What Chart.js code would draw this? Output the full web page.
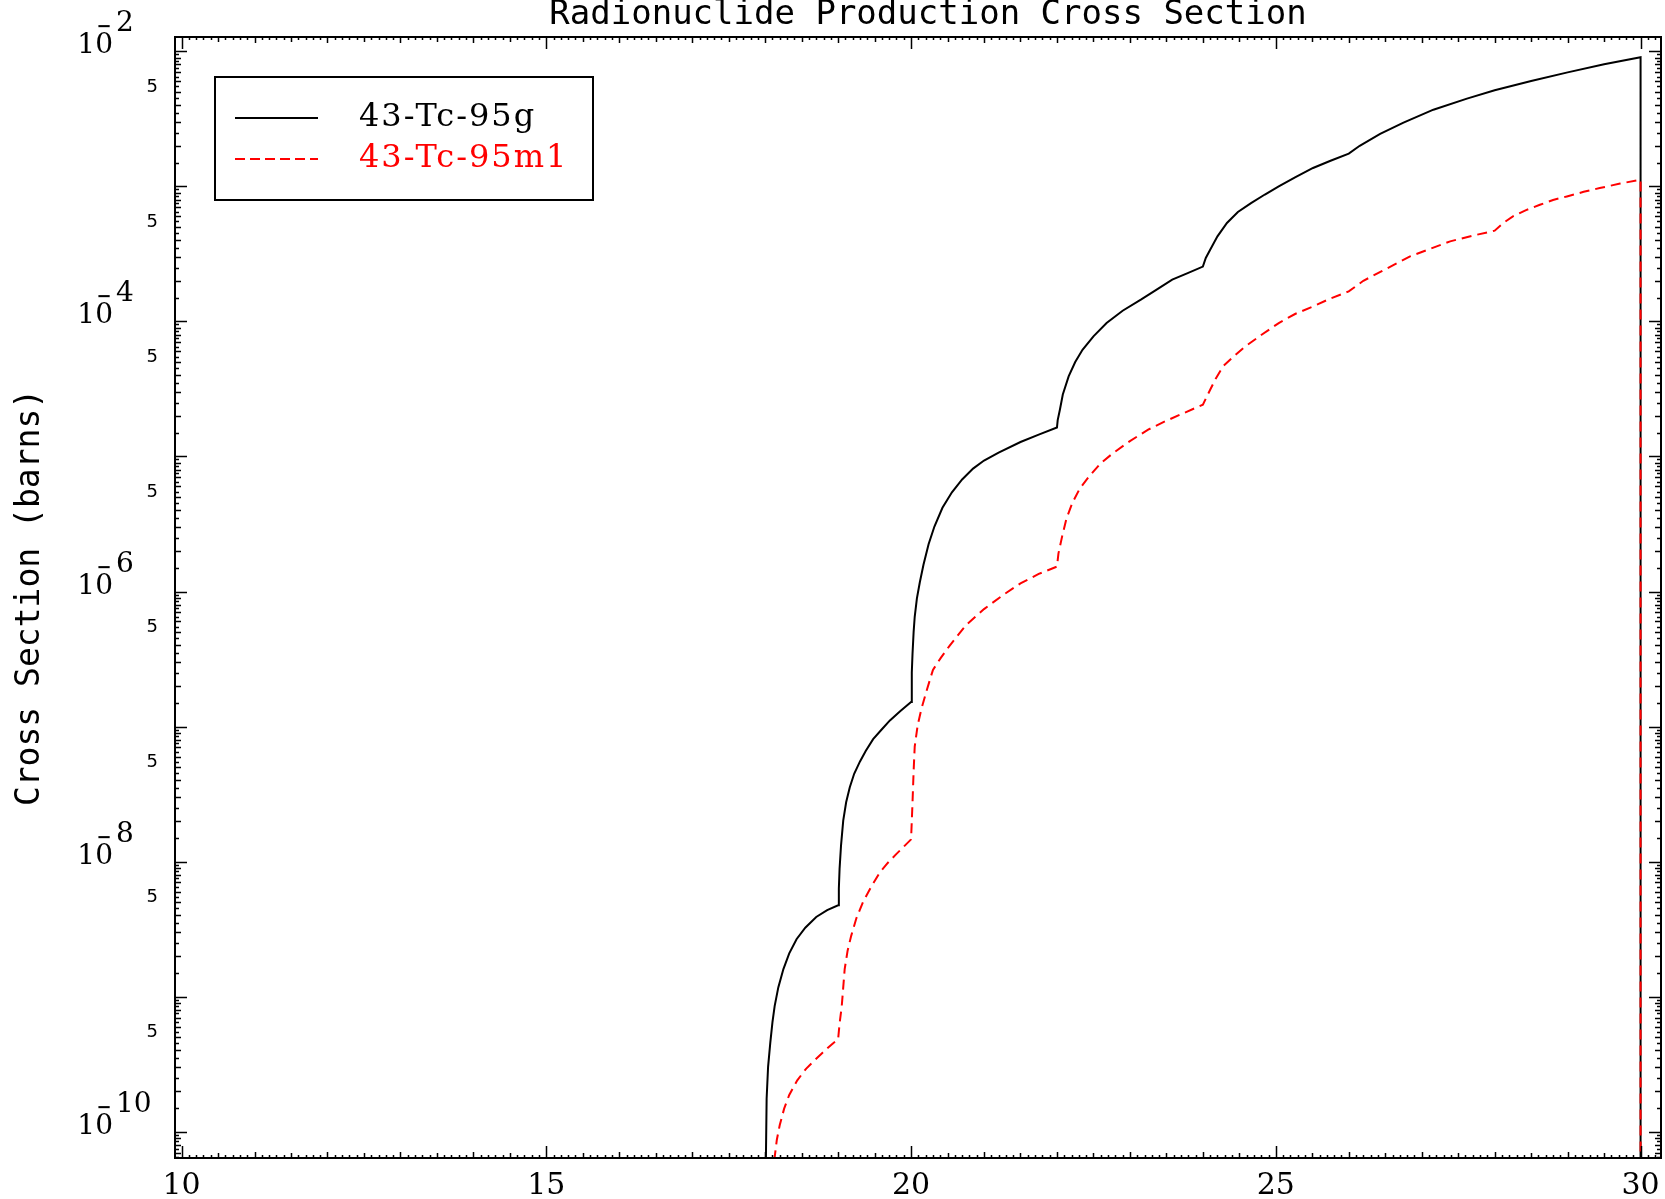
<!DOCTYPE html>
<html>
<head>
<meta charset="utf-8">
<title>Radionuclide Production Cross Section</title>
<script src="https://cdn.jsdelivr.net/npm/chart.js@4.4.0/dist/chart.umd.min.js"></script>
<style>
  html, body { margin: 0; padding: 0; background: #fff; }
  #wrap { width: 1665px; height: 1199px; }
</style>
</head>
<body>
<div id="wrap"><canvas id="xs" width="1665" height="1199"></canvas></div>
<script>
// Values (energy in MeV, cross section in barns).
// 1e-30 stands for "zero" (threshold / end of data), it falls below the axis.
const energyG = [18.00, 18.01, 18.02, 18.04, 18.07, 18.10, 18.13, 18.18, 18.25, 18.33, 18.43, 18.55, 18.70, 18.85, 19.00,
  19.01, 19.02, 19.04, 19.07, 19.11, 19.16, 19.22, 19.30, 19.38, 19.48, 19.60, 19.71, 19.85, 20.00,
  20.01, 20.02, 20.035, 20.05, 20.08, 20.12, 20.17, 20.24, 20.32, 20.43, 20.56, 20.70, 20.85, 21.00, 21.20, 21.50, 21.75, 22.00,
  22.01, 22.04, 22.08, 22.16, 22.25, 22.35, 22.50, 22.68, 22.90, 23.15, 23.35, 23.58, 23.80, 24.00,
  24.04, 24.10, 24.20, 24.33, 24.48, 24.66, 24.85, 25.04, 25.27, 25.51, 25.75, 26.00,
  26.15, 26.43, 26.75, 27.16, 27.62, 28.00, 28.50, 29.00, 29.50, 30.00, 30.00];
const sigmaG = [1e-30, 6.3e-11, 1.75e-10, 3.02e-10, 4.54e-10, 6.46e-10, 8.51e-10, 1.17e-9, 1.60e-9, 2.09e-9, 2.66e-9, 3.24e-9, 3.89e-9, 4.37e-9, 4.75e-9,
  6.31e-9, 8.83e-9, 1.32e-8, 2.01e-8, 2.75e-8, 3.55e-8, 4.47e-8, 5.52e-8, 6.61e-8, 8.07e-8, 9.55e-8, 1.11e-7, 1.30e-7, 1.52e-7,
  2.51e-7, 3.47e-7, 5.01e-7, 6.50e-7, 8.91e-7, 1.17e-6, 1.58e-6, 2.24e-6, 3.03e-6, 4.17e-6, 5.43e-6, 6.76e-6, 8.13e-6, 9.33e-6, 1.07e-5, 1.28e-5, 1.45e-5, 1.64e-5,
  1.86e-5, 2.22e-5, 2.88e-5, 3.92e-5, 5.01e-5, 6.17e-5, 7.76e-5, 9.73e-5, 1.20e-4, 1.45e-4, 1.70e-4, 2.04e-4, 2.29e-4, 2.55e-4,
  2.95e-4, 3.40e-4, 4.27e-4, 5.36e-4, 6.46e-4, 7.53e-4, 8.71e-4, 1.00e-3, 1.17e-3, 1.37e-3, 1.55e-3, 1.75e-3,
  2.00e-3, 2.45e-3, 2.97e-3, 3.70e-3, 4.47e-3, 5.15e-3, 6.03e-3, 6.99e-3, 8.02e-3, 9.04e-3, 1e-30];

const energyM = [18.12, 18.13, 18.16, 18.20, 18.26, 18.33, 18.44, 18.56, 18.68, 18.79, 18.90, 19.00,
  19.02, 19.05, 19.09, 19.13, 19.18, 19.25, 19.34, 19.45, 19.57, 19.68, 19.80, 19.90, 20.00,
  20.02, 20.035, 20.05, 20.09, 20.14, 20.21, 20.30, 20.41, 20.53, 20.75, 21.00, 21.25, 21.50, 21.75, 22.00,
  22.02, 22.07, 22.13, 22.21, 22.31, 22.44, 22.60, 22.77, 23.00, 23.25, 23.50, 23.75, 24.00,
  24.05, 24.10, 24.18, 24.28, 24.42, 24.57, 24.80, 25.04, 25.27, 25.51, 25.75, 26.00,
  26.20, 26.46, 26.84, 27.15, 27.39, 27.70, 28.00,
  28.12, 28.25, 28.43, 28.62, 28.80, 28.99, 29.22, 29.44, 29.72, 30.00, 30.00];
const sigmaM = [1e-30, 6.46e-11, 8.71e-11, 1.12e-10, 1.48e-10, 1.87e-10, 2.40e-10, 2.92e-10, 3.39e-10, 3.86e-10, 4.37e-10, 4.83e-10,
  6.31e-10, 8.53e-10, 1.60e-9, 2.19e-9, 2.83e-9, 3.80e-9, 5.00e-9, 6.46e-9, 8.28e-9, 9.77e-9, 1.14e-8, 1.29e-8, 1.46e-8,
  2.75e-8, 4.68e-8, 7.11e-8, 1.02e-7, 1.34e-7, 1.82e-7, 2.63e-7, 3.24e-7, 3.98e-7, 5.62e-7, 7.41e-7, 9.33e-7, 1.15e-6, 1.35e-6, 1.53e-6,
  1.91e-6, 2.55e-6, 3.47e-6, 4.52e-6, 5.75e-6, 7.11e-6, 8.91e-6, 1.06e-5, 1.30e-5, 1.58e-5, 1.84e-5, 2.11e-5, 2.42e-5,
  2.75e-5, 3.12e-5, 3.80e-5, 4.67e-5, 5.50e-5, 6.46e-5, 7.94e-5, 9.73e-5, 1.14e-4, 1.29e-4, 1.48e-4, 1.67e-4,
  2.00e-4, 2.37e-4, 3.03e-4, 3.51e-4, 3.92e-4, 4.32e-4, 4.70e-4,
  5.37e-4, 6.00e-4, 6.68e-4, 7.31e-4, 7.94e-4, 8.43e-4, 9.12e-4, 9.72e-4, 1.05e-3, 1.12e-3, 1e-30];

const seriesNames = ["43-Tc-95g", "43-Tc-95m1"];
const seriesColors = ["#000000", "#ff0000"];
const xTickValues = [10, 15, 20, 25, 30];
const decadeLabels = [-2, -4, -6, -8, -10];

const titleText = "Radionuclide Production Cross Section";
const yTitle = "Cross Section (barns)";

function toPoints(xs, ys) {
  return xs.map((x, i) => ({ x: x, y: ys[i] }));
}

// Draws the IDL-style frame: inward ticks on all sides, labels, title, legend
const idlFrame = {
  id: "idlFrame",
  afterDraw(chart) {
    const ctx = chart.ctx;
    const xs = chart.scales.x;
    const ys = chart.scales.y;
    const a = chart.chartArea;
    ctx.save();
    ctx.strokeStyle = "#000";
    ctx.fillStyle = "#000";
    ctx.lineWidth = 2;
    ctx.strokeRect(a.left, a.top, a.right - a.left, a.bottom - a.top);

    // x ticks every 0.1
    ctx.lineWidth = 1.5;
    for (let i = Math.ceil(xs.min * 10); i <= Math.floor(xs.max * 10); i++) {
      const px = Math.round(xs.getPixelForValue(i / 10)) + 0.5;
      let len = 3;
      if (i % 50 === 0) len = 12;
      else if (i % 10 === 0) len = 6;
      else if (i % 5 === 0) len = 5;
      ctx.beginPath();
      ctx.moveTo(px, a.bottom); ctx.lineTo(px, a.bottom - len);
      ctx.moveTo(px, a.top); ctx.lineTo(px, a.top + len);
      ctx.stroke();
    }

    // y ticks: decades + every half unit
    for (let n = -11; n <= -1; n++) {
      for (let k = 1; k < 10; k += 0.5) {
        const v = k * Math.pow(10, n);
        if (v < ys.min || v > ys.max) continue;
        const py = Math.round(ys.getPixelForValue(v)) + 0.5;
        let len = 4;
        if (k === 1) len = 12;
        else if (k % 1 === 0) len = 6;
        ctx.beginPath();
        ctx.moveTo(a.left, py); ctx.lineTo(a.left + len, py);
        ctx.moveTo(a.right, py); ctx.lineTo(a.right - len, py);
        ctx.stroke();
      }
      const v5 = 5 * Math.pow(10, n);
      if (v5 >= ys.min && v5 <= ys.max) {
        ctx.font = "18px 'DejaVu Sans'";
        ctx.textAlign = "right";
        ctx.textBaseline = "alphabetic";
        ctx.fillText("5", a.left - 17, ys.getPixelForValue(v5));
      }
    }

    // decade labels 10^-n, minus sign sits over the 0
    decadeLabels.forEach(n => {
      const py = ys.getPixelForValue(Math.pow(10, n));
      const right = a.left - 62;
      ctx.font = "28px 'DejaVu Serif'";
      ctx.textAlign = "right";
      ctx.textBaseline = "alphabetic";
      ctx.fillText("10", right, py + 2);
      ctx.textAlign = "left";
      ctx.fillText(String(-n), right + 3, py - 20);
      ctx.font = "bold 18px 'DejaVu Sans'";
      ctx.textAlign = "center";
      ctx.fillText("\u2212", right - 9, py - 19);
    });

    // x labels
    ctx.font = "30px 'DejaVu Serif'";
    ctx.textAlign = "center";
    ctx.textBaseline = "alphabetic";
    xTickValues.forEach(v => {
      ctx.fillText(String(v), xs.getPixelForValue(v), a.bottom + 36);
    });

    // title
    ctx.font = "34px 'DejaVu Sans Mono'";
    ctx.textAlign = "center";
    ctx.fillText(titleText, (a.left + a.right) / 2 + 10, 24);

    // y title
    ctx.save();
    ctx.translate(30, (a.top + a.bottom) / 2);
    ctx.rotate(-Math.PI / 2);
    ctx.font = "33px 'DejaVu Sans Mono'";
    ctx.textBaseline = "middle";
    ctx.fillText(yTitle, 0, 0);
    ctx.restore();

    // legend
    const lx = 215, ly = 77, lw = 378, lh = 123;
    ctx.lineWidth = 2;
    ctx.strokeStyle = "#000";
    ctx.strokeRect(lx, ly, lw, lh);
    const rows = [118, 159];
    seriesNames.forEach((name, i) => {
      ctx.strokeStyle = seriesColors[i];
      ctx.lineWidth = 2;
      ctx.setLineDash(i === 0 ? [] : [10, 5]);
      ctx.beginPath();
      ctx.moveTo(lx + 20, rows[i]);
      ctx.lineTo(lx + 103, rows[i]);
      ctx.stroke();
      ctx.setLineDash([]);
      ctx.fillStyle = seriesColors[i];
      ctx.font = "32px 'DejaVu Serif'";
      ctx.letterSpacing = "2px";
      ctx.textAlign = "left";
      ctx.textBaseline = "alphabetic";
      ctx.fillText(name, lx + 144, rows[i] + 8);
      ctx.letterSpacing = "0px";
    });
    ctx.restore();
  }
};

new Chart(document.getElementById("xs"), {
  type: "line",
  data: {
    datasets: [
      {
        label: seriesNames[0],
        data: toPoints(energyG, sigmaG),
        borderColor: seriesColors[0],
        borderWidth: 2,
        pointRadius: 0,
        tension: 0,
        fill: false,
        order: 1
      },
      {
        label: seriesNames[1],
        data: toPoints(energyM, sigmaM),
        borderColor: seriesColors[1],
        borderWidth: 2,
        borderDash: [10, 6],
        pointRadius: 0,
        tension: 0,
        fill: false,
        order: 0
      }
    ]
  },
  options: {
    responsive: false,
    animation: false,
    devicePixelRatio: 1,
    events: [],
    layout: { padding: { left: 175, right: 4, top: 37, bottom: 41 } },
    scales: {
      x: { type: "linear", min: 9.91, max: 30.28, display: false },
      y: { type: "logarithmic", min: 6.38e-11, max: 1.278e-2, display: false }
    },
    plugins: {
      legend: { display: false },
      tooltip: { enabled: false },
      title: { display: false }
    }
  },
  plugins: [idlFrame]
});
</script>
</body>
</html>
